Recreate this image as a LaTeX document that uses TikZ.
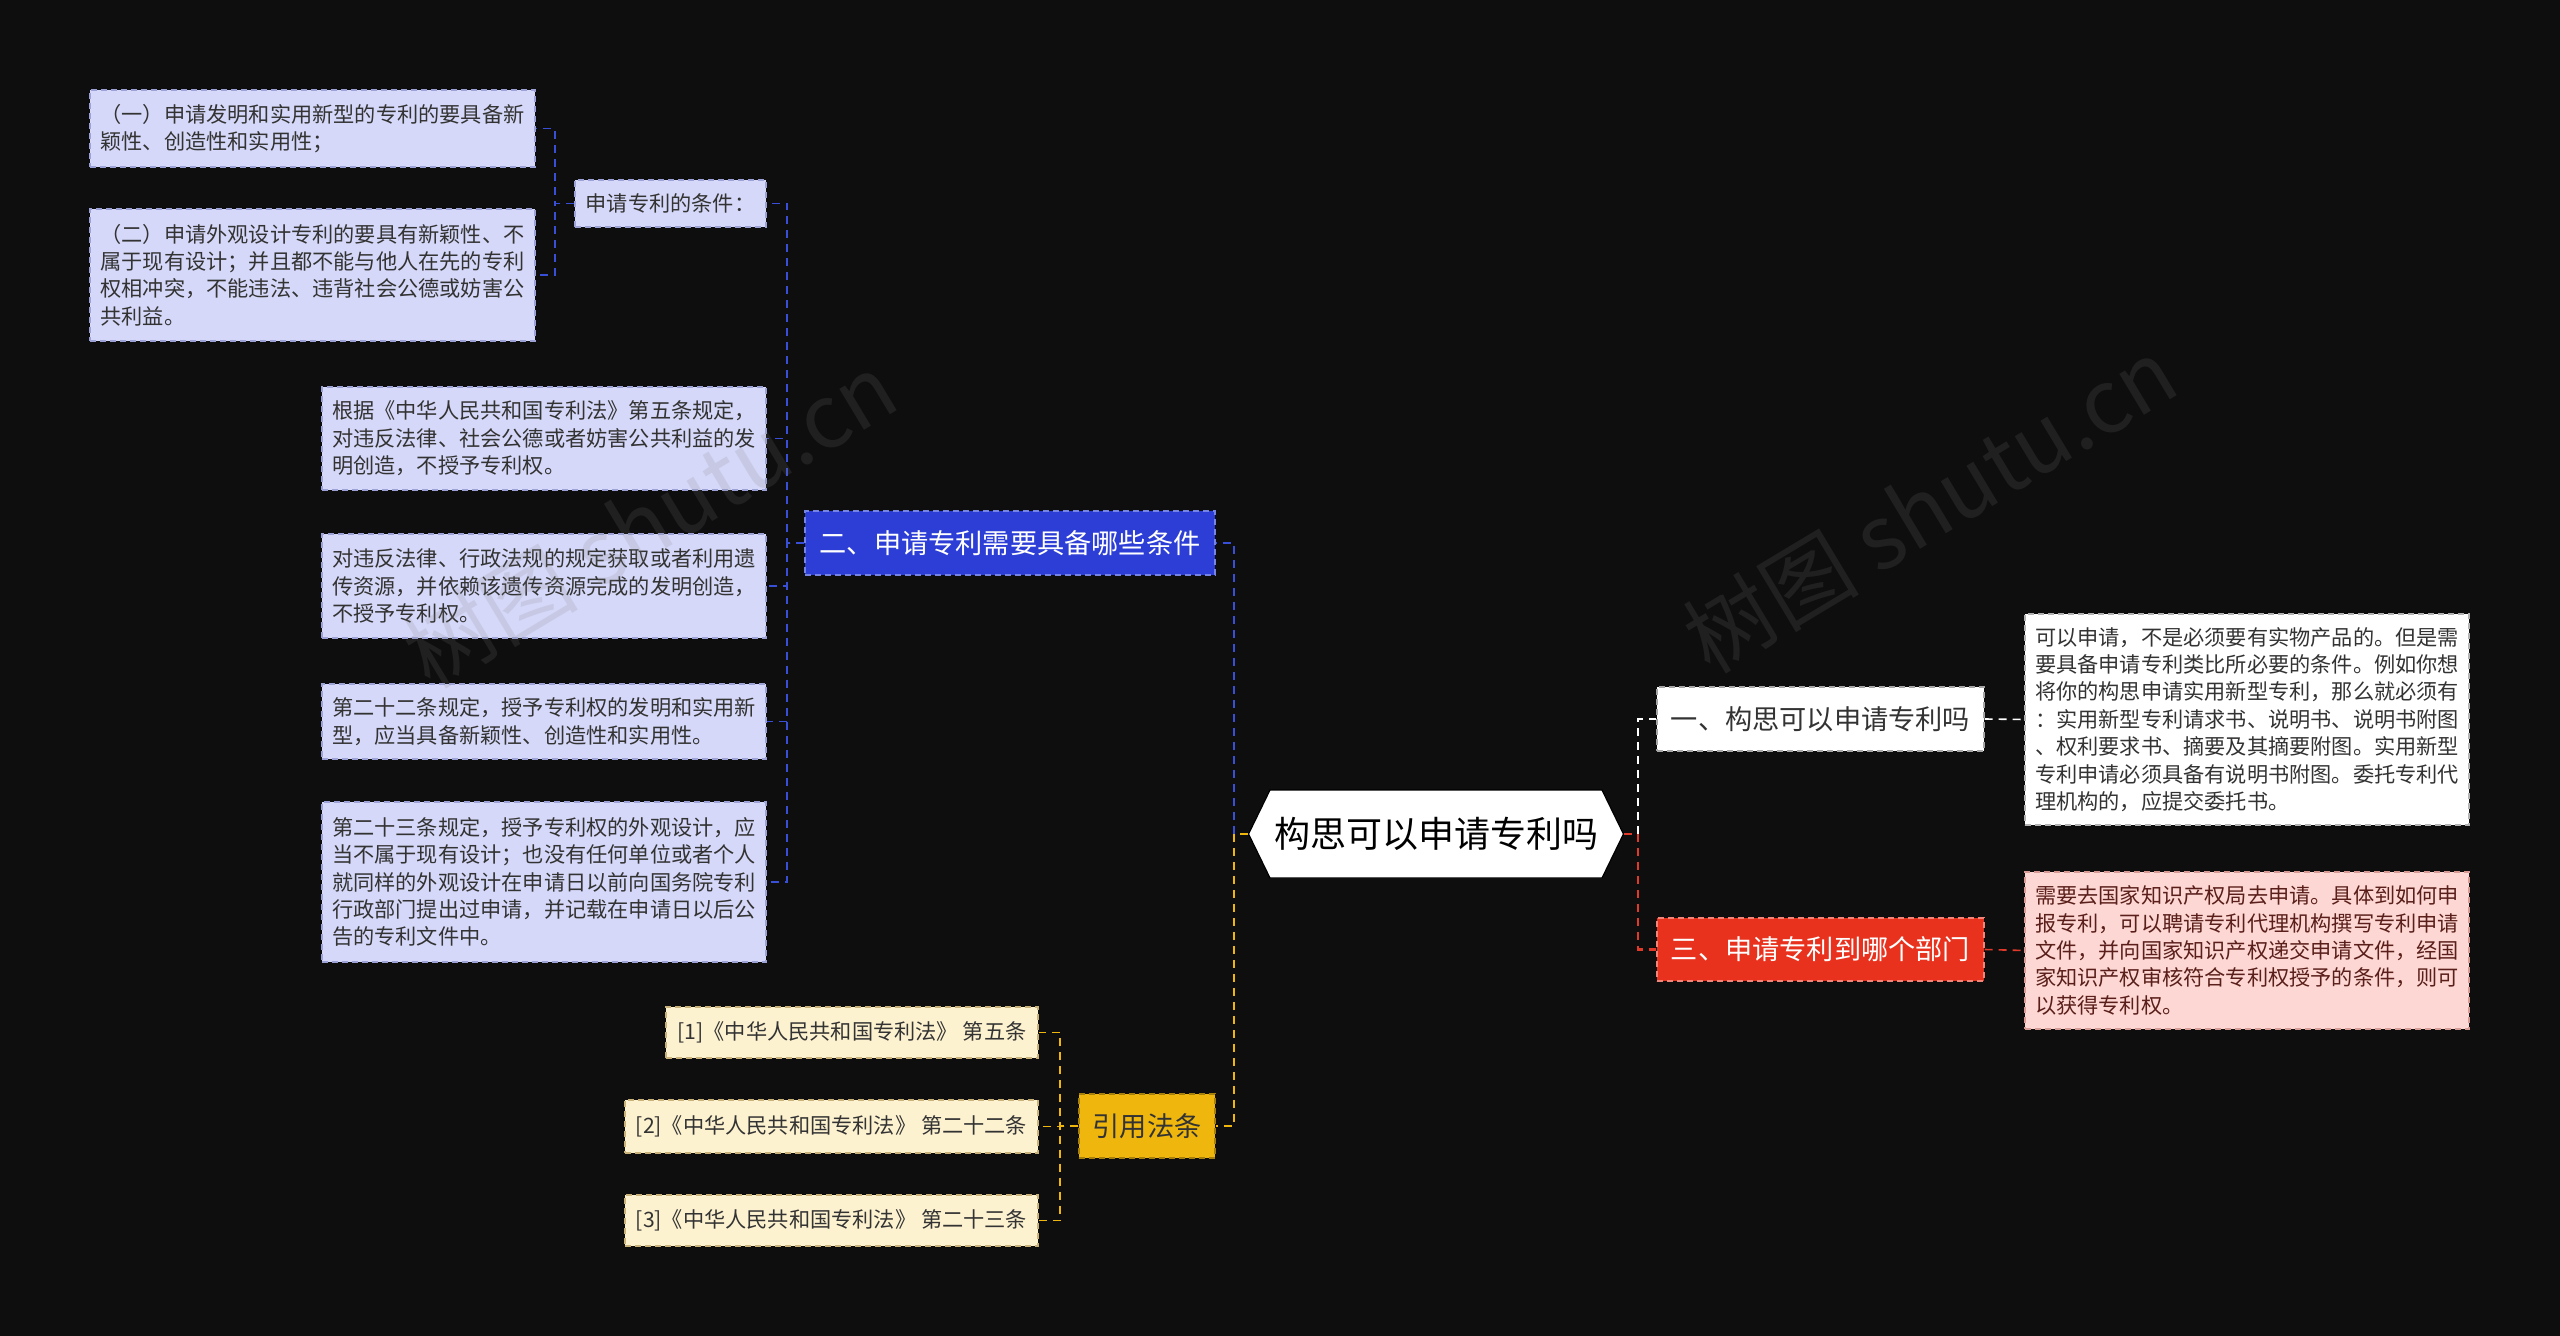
\documentclass[tikz,border=0pt]{standalone}
\usepackage{fontspec}
\setmainfont{Noto Sans CJK SC}
\usetikzlibrary{shapes.symbols}
\definecolor{bgc}{HTML}{0E0E0E}
\definecolor{lav}{HTML}{D5D8F8}
\definecolor{lavd}{HTML}{9DA2D6}
\definecolor{bluen}{HTML}{2C3ED6}
\definecolor{bluel}{HTML}{3A4FD8}
\definecolor{yel}{HTML}{EFB70E}
\definecolor{cream}{HTML}{FDF2D0}
\definecolor{creamd}{HTML}{C9B27A}
\definecolor{redn}{HTML}{E8321E}
\definecolor{redl}{HTML}{E03A2A}
\definecolor{pink}{HTML}{FDD7D3}
\definecolor{pinkd}{HTML}{D59A94}
\definecolor{txt}{HTML}{333333}
\definecolor{ptxt}{HTML}{5A1F1A}
\newcommand{\smallf}{\fontsize{10.6pt}{13.7pt}\selectfont}
\newcommand{\midf}{\fontsize{13.6pt}{16pt}\selectfont}
\newcommand{\bigf}{\fontsize{18pt}{21pt}\selectfont}
\begin{document}
\begin{tikzpicture}[x=0.5pt,y=-0.5pt,
  box/.style={rectangle, line width=0.7pt, dash pattern=on 3pt off 2pt, inner xsep=5pt, inner ysep=2pt, align=left, font=\smallf},
  lavbox/.style={box, fill=lav, draw=lavd, text=txt},
  creambox/.style={box, fill=cream, draw=creamd, text=txt, align=center},
  whitebox/.style={box, fill=white, draw=gray!60, text=txt},
  pinkbox/.style={box, fill=pink, draw=pinkd, text=ptxt},
  branch/.style={rectangle, line width=0.7pt, dash pattern=on 3pt off 2pt, font=\midf, align=center, inner sep=2pt},
  conn/.style={line width=1.1pt, dash pattern=on 4pt off 3pt},
  wm/.style={text=gray, opacity=0.16, font=\fontsize{44pt}{50pt}\selectfont}
]
\fill[bgc] (0,0) rectangle (2560,1336);
\useasboundingbox (0,0) rectangle (2560,1336);

% root
\node[signal, signal to=west and east, signal pointer angle=128, fill=white, draw=black, line width=0.6pt,
      minimum width=182pt, minimum height=44pt, inner xsep=2pt, font=\bigf, text=black] (root) at (1436,834) {构思可以申请专利吗};

% left branch 二
\node[branch, fill=bluen, draw=bluel!70!white, text=white, minimum width=205pt, minimum height=32pt] (b2) at (1010,543) {二、申请专利需要具备哪些条件};
\node[lavbox, minimum width=95.5pt, minimum height=23.5pt, align=center] (cond) at (670.5,203.5) {申请专利的条件：};
\node[lavbox, minimum width=222.5pt, minimum height=38.5pt] (c1) at (312.5,128.5) {（一）申请发明和实用新型的专利的要具备新\\颖性、创造性和实用性；};
\node[lavbox, minimum width=222.5pt, minimum height=66pt] (c2) at (312.5,275) {（二）申请外观设计专利的要具有新颖性、不\\属于现有设计；并且都不能与他人在先的专利\\权相冲突，不能违法、违背社会公德或妨害公\\共利益。};
\node[lavbox, minimum width=222pt, minimum height=51.5pt] (d1) at (544,438.5) {根据《中华人民共和国专利法》第五条规定，\\对违反法律、社会公德或者妨害公共利益的发\\明创造，不授予专利权。};
\node[lavbox, minimum width=222pt, minimum height=52pt] (d2) at (544,586) {对违反法律、行政法规的规定获取或者利用遗\\传资源，并依赖该遗传资源完成的发明创造，\\不授予专利权。};
\node[lavbox, minimum width=222pt, minimum height=37.5pt] (d3) at (544,721.5) {第二十二条规定，授予专利权的发明和实用新\\型，应当具备新颖性、创造性和实用性。};
\node[lavbox, minimum width=222pt, minimum height=80pt] (d4) at (544,882) {第二十三条规定，授予专利权的外观设计，应\\当不属于现有设计；也没有任何单位或者个人\\就同样的外观设计在申请日以前向国务院专利\\行政部门提出过申请，并记载在申请日以后公\\告的专利文件中。};

% left branch 引用法条
\node[branch, fill=yel, draw=yel!70!black, text=txt, minimum width=68pt, minimum height=32pt] (ref) at (1147,1126) {引用法条};
\node[creambox, minimum width=186pt, minimum height=25.5pt] (r1) at (852,1032.5) {[1]《中华人民共和国专利法》 第五条};
\node[creambox, minimum width=206.5pt, minimum height=26.5pt] (r2) at (831.5,1126.5) {[2]《中华人民共和国专利法》 第二十二条};
\node[creambox, minimum width=206.5pt, minimum height=25.5pt] (r3) at (831.5,1220.5) {[3]《中华人民共和国专利法》 第二十三条};

% right branches
\node[branch, fill=white, draw=gray!70, text=txt, minimum width=163.5pt, minimum height=32pt] (b1) at (1820.5,719) {一、构思可以申请专利吗};
\node[branch, fill=redn, draw=redn!60!white, text=white, minimum width=163.5pt, minimum height=31.5pt] (b3) at (1820.5,949.5) {三、申请专利到哪个部门};
\node[whitebox, minimum width=222pt, minimum height=105.5pt] (t1) at (2247,719.5) {可以申请，不是必须要有实物产品的。但是需\\要具备申请专利类比所必要的条件。例如你想\\将你的构思申请实用新型专利，那么就必须有\\：实用新型专利请求书、说明书、说明书附图\\、权利要求书、摘要及其摘要附图。实用新型\\专利申请必须具备有说明书附图。委托专利代\\理机构的，应提交委托书。};
\node[pinkbox, minimum width=222pt, minimum height=78.5pt] (t2) at (2247,950.5) {需要去国家知识产权局去申请。具体到如何申\\报专利，可以聘请专利代理机构撰写专利申请\\文件，并向国家知识产权递交申请文件，经国\\家知识产权审核符合专利权授予的条件，则可\\以获得专利权。};

% junction coordinates
\coordinate (jl) at (1234,834);
\coordinate (jr) at (1638,834);
\coordinate (jb2) at (787,543);
\coordinate (jc) at (555,203.5);
\coordinate (jref) at (1060,1126);

% connectors
\draw[conn, draw=bluel] (root.west) -- (jl) |- (b2.east);
\draw[conn, draw=yel] (root.west) -- (jl) |- (ref.east);
\draw[conn, draw=white] (root.east) -- (jr) |- (b1.west);
\draw[conn, draw=redl] (root.east) -- (jr) |- (b3.west);

\foreach \n in {cond,d1,d2,d3,d4}{
  \draw[conn, draw=bluel, line width=0.8pt] (b2.west) -- (jb2) |- (\n.east);
}
\foreach \n in {c1,c2}{
  \draw[conn, draw=bluel, line width=0.8pt] (cond.west) -- (jc) |- (\n.east);
}
\foreach \n in {r1,r2,r3}{
  \draw[conn, draw=yel, line width=0.8pt] (ref.west) -- (jref) |- (\n.east);
}
\draw[conn, draw=white, line width=0.8pt] (b1.east) -- (t1.west);
\draw[conn, draw=redl, line width=0.8pt] (b3.east) -- (t2.west);

% watermarks
\node[wm, rotate=31] (wm1) at (650,520) {树图 shutu.cn};
\node[wm, rotate=31] (wm2) at (1930,505) {树图 shutu.cn};
\end{tikzpicture}
\end{document}
